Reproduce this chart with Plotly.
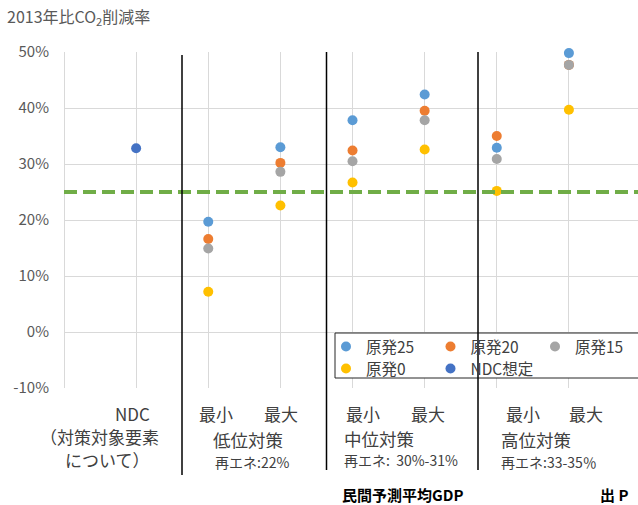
import plotly.graph_objects as go

# Category positions on the x axis (one slot per scenario column)
categories = ["NDC", "低位最小", "低位最大", "中位最小", "中位最大", "高位最小", "高位最大"]
x_pos = [1, 2, 3, 4, 5, 6, 7]

# CO2 reduction vs 2013 (%) for each nuclear share case
genpatsu25 = [None, 19.7, 33.0, 37.8, 42.4, 32.9, 49.8]
genpatsu20 = [None, 16.6, 30.2, 32.4, 39.5, 35.0, 47.7]
genpatsu15 = [None, 14.9, 28.6, 30.5, 37.8, 30.9, 47.7]
genpatsu0 = [None, 7.2, 22.6, 26.7, 32.6, 25.2, 39.7]
ndc_assumed = [32.8, None, None, None, None, None, None]
target_line = 25.0

y_ticks = [-10, 0, 10, 20, 30, 40, 50]
y_ticktext = ["-10%", "0%", "10%", "20%", "30%", "40%", "50%"]

FONT = "Noto Sans CJK JP, Noto Sans, sans-serif"
W, H = 638, 505
ML, MR, MT, MB = 64, 0, 52, 117
PW, PH = W - ML - MR, H - MT - MB


def px(x):
    return (x - ML) / PW


def py(y):
    return (H - MB - y) / PH


# name, values, colour, legend row, legend entry width
series = [
    ("原発25", genpatsu25, "#5B9BD5", "legend", 59.5),
    ("原発20", genpatsu20, "#ED7D31", "legend", 59.5),
    ("原発15", genpatsu15, "#A5A5A5", "legend", 45),
    ("原発0", genpatsu0, "#FFC000", "legend2", 59.5),
    ("NDC想定", ndc_assumed, "#4472C4", "legend2", 70),
]

fig = go.Figure()
for name, vals, color, leg, lw in series:
    fig.add_trace(go.Scatter(
        x=x_pos, y=vals, name=name, mode="markers",
        marker=dict(color=color, size=10, line=dict(width=0)),
        legend=leg, legendwidth=lw, cliponaxis=False,
    ))

shapes = [
    # target reduction line
    dict(type="line", xref="paper", yref="y", x0=0, x1=1,
         y0=target_line, y1=target_line,
         line=dict(color="#70AD47", width=4, dash="13px,6px"), layer="above"),
    # legend frame
    dict(type="rect", xref="paper", yref="paper",
         x0=px(335), x1=px(645), y0=py(378), y1=py(333),
         fillcolor="white", line=dict(color="#262626", width=1), layer="above"),
]
# group separators
for xs, ytop, ybot in [(182, 55, 475), (326.5, 52, 470), (478, 52, 470)]:
    shapes.append(dict(type="line", xref="paper", yref="paper",
                       x0=px(xs), x1=px(xs), y0=py(ybot), y1=py(ytop),
                       line=dict(color="#000000", width=1.5), layer="above"))

TXT = "#404040"
labels = [
    ("NDC", 152, 413, "right", 17, TXT),
    ("（対策対象要素", 161, 436, "right", 17, TXT),
    ("について）", 152, 459, "right", 17, TXT),
    ("最小", 216, 413, "center", 17, TXT),
    ("最大", 281, 413, "center", 17, TXT),
    ("低位対策", 248, 440, "center", 17.5, TXT),
    ("再エネ:22%", 213, 462, "left", 14, TXT),
    ("最小", 363, 413, "center", 17, TXT),
    ("最大", 428, 413, "center", 17, TXT),
    ("中位対策", 342, 439, "left", 17.5, TXT),
    ("再エネ:  30%-31%", 342, 460, "left", 14, TXT),
    ("最小", 523, 413, "center", 17, TXT),
    ("最大", 586, 413, "center", 17, TXT),
    ("高位対策", 499, 440, "left", 17.5, TXT),
    ("再エネ:33-35％", 499, 462, "left", 14, TXT),
    ("<b>民間予測平均GDP</b>", 340, 494, "left", 15, "#000000"),
    ("<b>出 P</b>", 598, 494, "left", 15, "#000000"),
]
annotations = [
    dict(text="2013年比CO<sub>2</sub>削減率", xref="paper", yref="paper",
         x=px(5), y=py(17), xanchor="left", yanchor="middle", showarrow=False,
         font=dict(family=FONT, size=16, color="#595959")),
]
for text, x, y, anchor, size, color in labels:
    annotations.append(dict(text=text, xref="paper", yref="paper",
                            x=px(x), y=py(y), xanchor=anchor, yanchor="middle",
                            showarrow=False,
                            font=dict(family=FONT, size=size, color=color)))

legend_common = dict(orientation="h", x=px(326), xanchor="left",
                     yanchor="middle", bgcolor="rgba(0,0,0,0)", borderwidth=0,
                     font=dict(family=FONT, size=15.5, color="#404040"),
                     itemclick=False)

fig.update_layout(
    width=W, height=H,
    margin=dict(l=ML, r=MR, t=MT, b=MB, pad=0),
    paper_bgcolor="white", plot_bgcolor="white",
    font=dict(family=FONT, color="#595959"),
    showlegend=True,
    legend=dict(legend_common, y=py(347)),
    legend2=dict(legend_common, y=py(369)),
    xaxis=dict(range=[0, PW / 72.13], tickvals=x_pos, showticklabels=False,
               showgrid=True, gridcolor="#D9D9D9", gridwidth=1,
               zeroline=True, zerolinecolor="#D9D9D9", zerolinewidth=1,
               showline=False, ticks="", fixedrange=True, automargin=False),
    yaxis=dict(range=[-10, 50], tickmode="array", tickvals=y_ticks,
               ticktext=y_ticktext,
               showgrid=True, gridcolor="#D9D9D9", gridwidth=1,
               zeroline=False, showline=False, ticks="",
               ticklabelstandoff=14, automargin=False,
               tickfont=dict(family=FONT, size=15, color="#595959"),
               fixedrange=True),
    shapes=shapes,
    annotations=annotations,
)

fig.write_html("out.html")
